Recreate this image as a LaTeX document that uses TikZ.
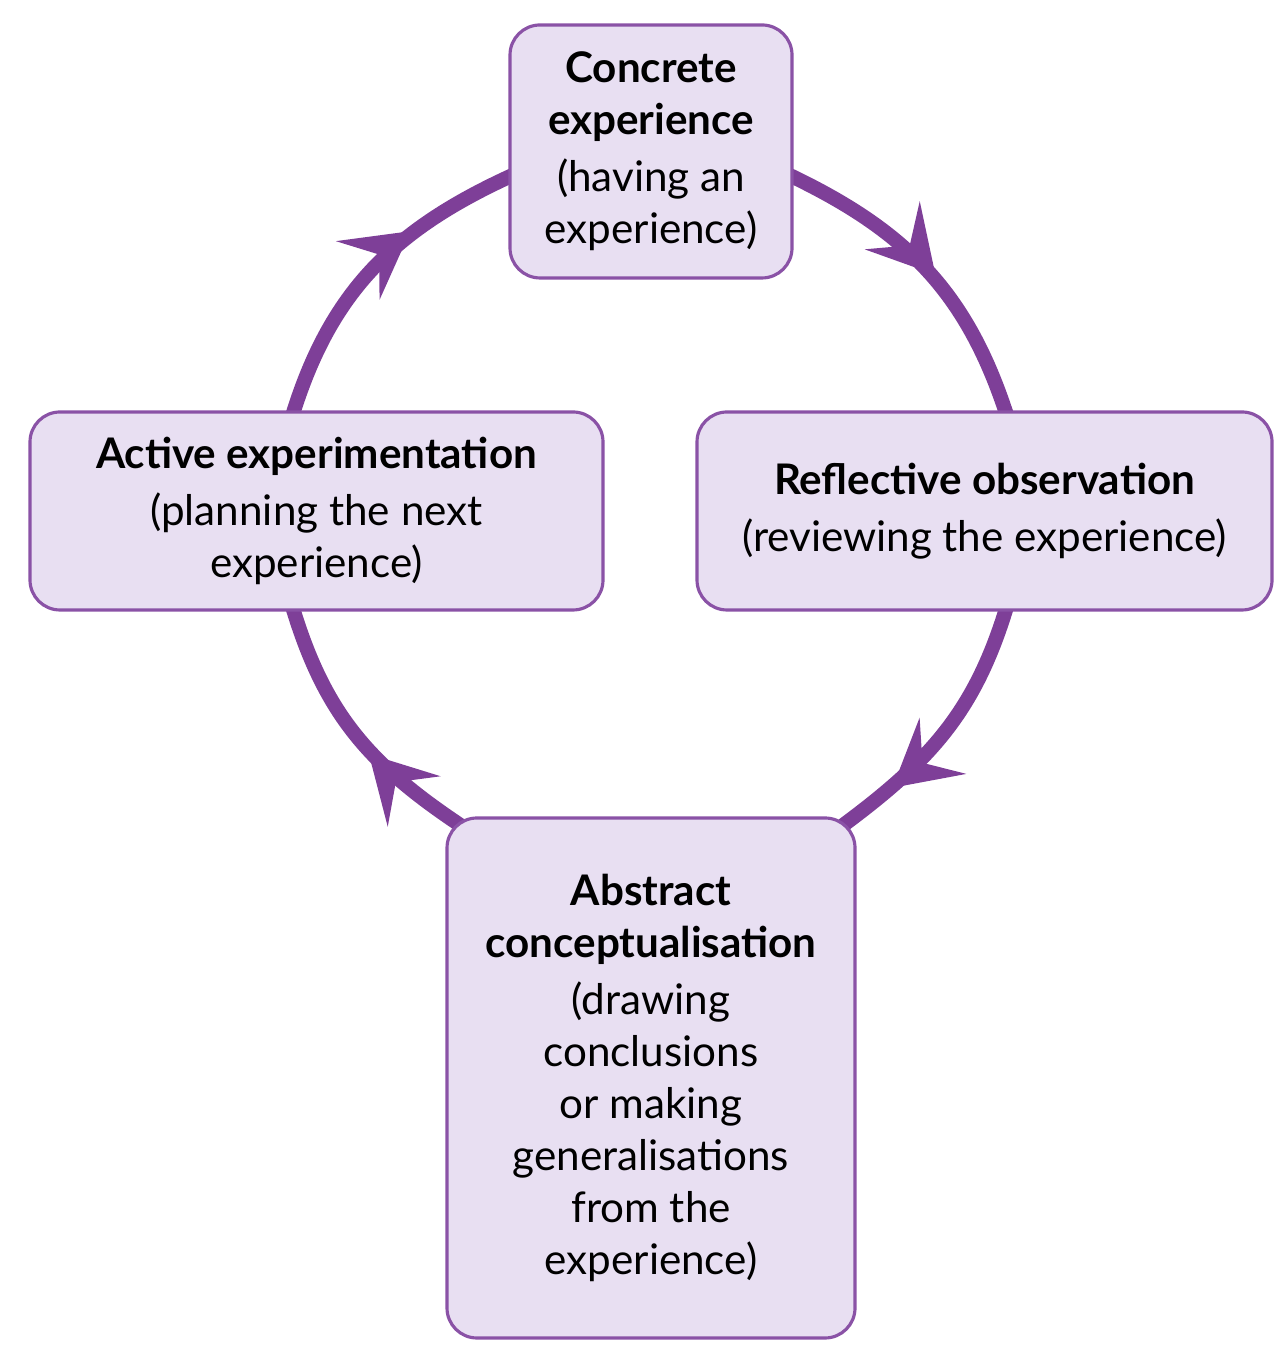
\documentclass[tikz,border=0pt]{standalone}
\usepackage{fontspec}
\setmainfont{Lato}
\usetikzlibrary{arrows.meta,decorations.markings,backgrounds}
\definecolor{plum}{HTML}{7E3F98}
\definecolor{lilac}{HTML}{E8DFF2}
\definecolor{lilacline}{HTML}{8A52A6}

\begin{document}
\begin{tikzpicture}[main/.style = {draw=lilacline, fill=lilac, line width=0.9pt, rounded corners=3mm, align=center, inner sep=0pt, font=\fontsize{12}{14.8}\selectfont},
    cyc/.style = {plum, line width=1.45mm, shorten <=-3mm, shorten >=-3mm},
    headat/.style = {postaction={decorate}, decoration={markings, mark=at position #1 with {\arrow{Stealth[length=6.5mm,width=7.2mm,inset=2.6mm]}}}}]
        \useasboundingbox (0,0) rectangle (12.86,13.58);
        \node[main, minimum width=2.82cm, minimum height=2.53cm] (1) at (6.51,12.065) {\textbf{Concrete}\\\textbf{experience}\\[1.5pt](having an\\experience)};
        \node[main, minimum width=5.75cm, minimum height=1.98cm] (2) at (9.845,8.47) {\textbf{Reflective observation}\\[1.5pt](reviewing the experience)};
        \node[main, minimum width=4.08cm, minimum height=5.20cm] (3) at (6.51,2.80) {\textbf{Abstract}\\\textbf{conceptualisation}\\[1.5pt](drawing\\conclusions\\or making\\generalisations\\from the\\experience)};
        \node[main, minimum width=5.73cm, minimum height=1.98cm] (4) at (3.165,8.47) {\textbf{Active experimentation}\\[1.5pt](planning the next\\experience)};
        % the cycle runs behind the boxes
        \begin{scope}[on background layer]
        \draw[cyc, headat=0.53] (1.-10) to[out=-24, in=106] (2.78);
        \draw[cyc, headat=0.82] (2.-78) to[out=-105, in=36] (3.52);
        \draw[cyc, headat=0.38] (3.128) to[out=147, in=-75] (4.-103);
        \draw[cyc, headat=0.66] (4.103) to[out=75, in=-157] (1.190);
        \end{scope}
        \end{tikzpicture}
\end{document}
